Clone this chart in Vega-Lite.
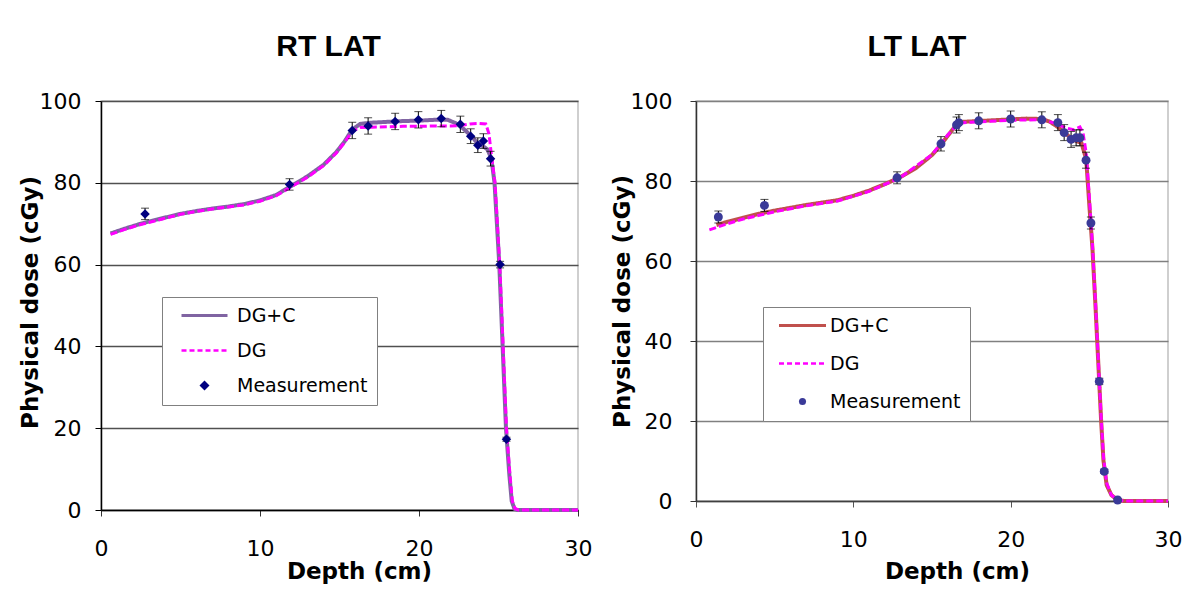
{
  "$schema": "https://vega.github.io/schema/vega-lite/v6.json",
  "background": "white",
  "padding": {"left": 18, "top": 31, "right": 5, "bottom": 5},
  "config": {
    "font": "DejaVu Sans",
    "view": {"stroke": "#c0c0c0", "strokeWidth": 1.5},
    "concat": {"spacing": 17},
    "axis": {"labelFlush": false, "labelOverlap": false, "labelColor": "black", "titleColor": "black"}
  },
  "resolve": {
    "scale": {"color": "independent", "strokeDash": "independent", "x": "independent", "y": "independent"},
    "legend": {"color": "independent"}
  },
  "datasets": {
    "rt_curves": [
      {"depth": 0.6, "dose": 67.6, "series": "DG+C"},
      {"depth": 1.5, "dose": 68.8, "series": "DG+C"},
      {"depth": 2.5, "dose": 70.0, "series": "DG+C"},
      {"depth": 3.5, "dose": 71.0, "series": "DG+C"},
      {"depth": 5, "dose": 72.4, "series": "DG+C"},
      {"depth": 6, "dose": 73.1, "series": "DG+C"},
      {"depth": 7, "dose": 73.7, "series": "DG+C"},
      {"depth": 8, "dose": 74.2, "series": "DG+C"},
      {"depth": 9, "dose": 74.8, "series": "DG+C"},
      {"depth": 10, "dose": 75.7, "series": "DG+C"},
      {"depth": 11, "dose": 77.0, "series": "DG+C"},
      {"depth": 12, "dose": 79.3, "series": "DG+C"},
      {"depth": 13, "dose": 81.6, "series": "DG+C"},
      {"depth": 14, "dose": 84.4, "series": "DG+C"},
      {"depth": 14.8, "dose": 87.5, "series": "DG+C"},
      {"depth": 15.3, "dose": 90.0, "series": "DG+C"},
      {"depth": 15.8, "dose": 93.0, "series": "DG+C"},
      {"depth": 16.3, "dose": 94.4, "series": "DG+C"},
      {"depth": 17, "dose": 94.7, "series": "DG+C"},
      {"depth": 18, "dose": 94.9, "series": "DG+C"},
      {"depth": 19, "dose": 95.1, "series": "DG+C"},
      {"depth": 20, "dose": 95.2, "series": "DG+C"},
      {"depth": 21, "dose": 95.4, "series": "DG+C"},
      {"depth": 21.8, "dose": 95.4, "series": "DG+C"},
      {"depth": 22.3, "dose": 94.6, "series": "DG+C"},
      {"depth": 22.8, "dose": 93.2, "series": "DG+C"},
      {"depth": 23.3, "dose": 91.4, "series": "DG+C"},
      {"depth": 23.7, "dose": 89.6, "series": "DG+C"},
      {"depth": 24.0, "dose": 89.0, "series": "DG+C"},
      {"depth": 24.3, "dose": 88.2, "series": "DG+C"},
      {"depth": 24.55, "dose": 86.0, "series": "DG+C"},
      {"depth": 24.75, "dose": 80.0, "series": "DG+C"},
      {"depth": 25.05, "dose": 60.0, "series": "DG+C"},
      {"depth": 25.26, "dose": 40.0, "series": "DG+C"},
      {"depth": 25.47, "dose": 20.0, "series": "DG+C"},
      {"depth": 25.68, "dose": 8.7, "series": "DG+C"},
      {"depth": 25.83, "dose": 2.2, "series": "DG+C"},
      {"depth": 26.0, "dose": 0.3, "series": "DG+C"},
      {"depth": 26.2, "dose": 0, "series": "DG+C"},
      {"depth": 30, "dose": 0, "series": "DG+C"},
      {"depth": 0.6, "dose": 67.4, "series": "DG"},
      {"depth": 1.5, "dose": 68.6, "series": "DG"},
      {"depth": 2.5, "dose": 69.8, "series": "DG"},
      {"depth": 3.5, "dose": 70.8, "series": "DG"},
      {"depth": 5, "dose": 72.3, "series": "DG"},
      {"depth": 6, "dose": 73.0, "series": "DG"},
      {"depth": 7, "dose": 73.6, "series": "DG"},
      {"depth": 8, "dose": 74.1, "series": "DG"},
      {"depth": 9, "dose": 74.6, "series": "DG"},
      {"depth": 10, "dose": 75.5, "series": "DG"},
      {"depth": 11, "dose": 76.8, "series": "DG"},
      {"depth": 12, "dose": 79.1, "series": "DG"},
      {"depth": 13, "dose": 81.4, "series": "DG"},
      {"depth": 14, "dose": 84.2, "series": "DG"},
      {"depth": 14.8, "dose": 87.3, "series": "DG"},
      {"depth": 15.3, "dose": 89.8, "series": "DG"},
      {"depth": 15.8, "dose": 92.6, "series": "DG"},
      {"depth": 16.3, "dose": 93.5, "series": "DG"},
      {"depth": 17, "dose": 93.6, "series": "DG"},
      {"depth": 18, "dose": 93.7, "series": "DG"},
      {"depth": 19, "dose": 93.8, "series": "DG"},
      {"depth": 20, "dose": 93.8, "series": "DG"},
      {"depth": 21, "dose": 93.9, "series": "DG"},
      {"depth": 22, "dose": 93.9, "series": "DG"},
      {"depth": 22.6, "dose": 94.0, "series": "DG"},
      {"depth": 23.2, "dose": 94.4, "series": "DG"},
      {"depth": 23.8, "dose": 94.5, "series": "DG"},
      {"depth": 24.2, "dose": 94.4, "series": "DG"},
      {"depth": 24.4, "dose": 92.0, "series": "DG"},
      {"depth": 24.55, "dose": 87.0, "series": "DG"},
      {"depth": 24.78, "dose": 80.0, "series": "DG"},
      {"depth": 25.08, "dose": 60.0, "series": "DG"},
      {"depth": 25.29, "dose": 40.0, "series": "DG"},
      {"depth": 25.5, "dose": 20.0, "series": "DG"},
      {"depth": 25.72, "dose": 8.7, "series": "DG"},
      {"depth": 25.87, "dose": 2.2, "series": "DG"},
      {"depth": 26.05, "dose": 0.3, "series": "DG"},
      {"depth": 26.25, "dose": 0, "series": "DG"},
      {"depth": 30, "dose": 0, "series": "DG"}
    ],
    "rt_meas": [
      {"depth": 2.77, "dose": 72.4, "err": 1.4, "series": "Measurement"},
      {"depth": 11.86, "dose": 79.6, "err": 1.4, "series": "Measurement"},
      {"depth": 15.8, "dose": 92.8, "err": 2.0, "series": "Measurement"},
      {"depth": 16.8, "dose": 93.9, "err": 2.0, "series": "Measurement"},
      {"depth": 18.5, "dose": 95.0, "err": 2.0, "series": "Measurement"},
      {"depth": 19.96, "dose": 95.4, "err": 2.0, "series": "Measurement"},
      {"depth": 21.4, "dose": 95.7, "err": 2.0, "series": "Measurement"},
      {"depth": 22.6, "dose": 94.3, "err": 2.0, "series": "Measurement"},
      {"depth": 23.25, "dose": 91.4, "err": 1.8, "series": "Measurement"},
      {"depth": 23.7, "dose": 89.2, "err": 1.8, "series": "Measurement"},
      {"depth": 24.05, "dose": 90.2, "err": 1.8, "series": "Measurement"},
      {"depth": 24.5, "dose": 85.9, "err": 1.8, "series": "Measurement"},
      {"depth": 25.1, "dose": 60.0, "err": 0.8, "series": "Measurement"},
      {"depth": 25.5, "dose": 17.3, "err": 0.5, "series": "Measurement"}
    ],
    "lt_curves": [
      {"depth": 1.3, "dose": 69.0, "series": "DG+C"},
      {"depth": 2, "dose": 69.8, "series": "DG+C"},
      {"depth": 3, "dose": 70.8, "series": "DG+C"},
      {"depth": 4, "dose": 71.8, "series": "DG+C"},
      {"depth": 5, "dose": 72.6, "series": "DG+C"},
      {"depth": 6, "dose": 73.3, "series": "DG+C"},
      {"depth": 7, "dose": 74.0, "series": "DG+C"},
      {"depth": 8, "dose": 74.6, "series": "DG+C"},
      {"depth": 9, "dose": 75.2, "series": "DG+C"},
      {"depth": 10, "dose": 76.3, "series": "DG+C"},
      {"depth": 11, "dose": 77.6, "series": "DG+C"},
      {"depth": 12, "dose": 79.2, "series": "DG+C"},
      {"depth": 13, "dose": 81.0, "series": "DG+C"},
      {"depth": 14, "dose": 83.3, "series": "DG+C"},
      {"depth": 15, "dose": 86.5, "series": "DG+C"},
      {"depth": 15.5, "dose": 88.7, "series": "DG+C"},
      {"depth": 16, "dose": 91.3, "series": "DG+C"},
      {"depth": 16.5, "dose": 93.8, "series": "DG+C"},
      {"depth": 17, "dose": 94.8, "series": "DG+C"},
      {"depth": 18, "dose": 95.0, "series": "DG+C"},
      {"depth": 19, "dose": 95.2, "series": "DG+C"},
      {"depth": 20, "dose": 95.4, "series": "DG+C"},
      {"depth": 21, "dose": 95.6, "series": "DG+C"},
      {"depth": 22, "dose": 95.5, "series": "DG+C"},
      {"depth": 22.5, "dose": 94.8, "series": "DG+C"},
      {"depth": 23, "dose": 93.5, "series": "DG+C"},
      {"depth": 23.5, "dose": 91.8, "series": "DG+C"},
      {"depth": 24, "dose": 90.3, "series": "DG+C"},
      {"depth": 24.5, "dose": 89.5, "series": "DG+C"},
      {"depth": 24.8, "dose": 85.5, "series": "DG+C"},
      {"depth": 25.0, "dose": 74.0, "series": "DG+C"},
      {"depth": 25.2, "dose": 63.0, "series": "DG+C"},
      {"depth": 25.4, "dose": 48.0, "series": "DG+C"},
      {"depth": 25.6, "dose": 32.0, "series": "DG+C"},
      {"depth": 25.75, "dose": 20.0, "series": "DG+C"},
      {"depth": 25.9, "dose": 10.0, "series": "DG+C"},
      {"depth": 26.1, "dose": 4.0, "series": "DG+C"},
      {"depth": 26.4, "dose": 1.5, "series": "DG+C"},
      {"depth": 26.8, "dose": 0.2, "series": "DG+C"},
      {"depth": 27.2, "dose": 0, "series": "DG+C"},
      {"depth": 30, "dose": 0, "series": "DG+C"},
      {"depth": 0.85, "dose": 67.8, "series": "DG"},
      {"depth": 2, "dose": 69.3, "series": "DG"},
      {"depth": 3, "dose": 70.5, "series": "DG"},
      {"depth": 5, "dose": 72.3, "series": "DG"},
      {"depth": 7, "dose": 73.8, "series": "DG"},
      {"depth": 9, "dose": 75.0, "series": "DG"},
      {"depth": 11, "dose": 77.4, "series": "DG"},
      {"depth": 13, "dose": 80.9, "series": "DG"},
      {"depth": 15, "dose": 86.6, "series": "DG"},
      {"depth": 16, "dose": 91.5, "series": "DG"},
      {"depth": 16.7, "dose": 94.5, "series": "DG"},
      {"depth": 18, "dose": 94.8, "series": "DG"},
      {"depth": 20, "dose": 95.2, "series": "DG"},
      {"depth": 22, "dose": 95.3, "series": "DG"},
      {"depth": 22.8, "dose": 94.5, "series": "DG"},
      {"depth": 23.5, "dose": 93.3, "series": "DG"},
      {"depth": 24, "dose": 92.8, "series": "DG"},
      {"depth": 24.4, "dose": 93.5, "series": "DG"},
      {"depth": 24.6, "dose": 92.0, "series": "DG"},
      {"depth": 24.8, "dose": 87.0, "series": "DG"},
      {"depth": 25.0, "dose": 76.0, "series": "DG"},
      {"depth": 25.2, "dose": 64.0, "series": "DG"},
      {"depth": 25.4, "dose": 49.0, "series": "DG"},
      {"depth": 25.6, "dose": 33.0, "series": "DG"},
      {"depth": 25.75, "dose": 21.0, "series": "DG"},
      {"depth": 25.9, "dose": 11.0, "series": "DG"},
      {"depth": 26.1, "dose": 4.5, "series": "DG"},
      {"depth": 26.4, "dose": 1.5, "series": "DG"},
      {"depth": 26.8, "dose": 0.3, "series": "DG"},
      {"depth": 27.2, "dose": 0, "series": "DG"},
      {"depth": 30, "dose": 0, "series": "DG"}
    ],
    "lt_meas": [
      {"depth": 1.42, "dose": 71.0, "err": 1.5, "series": "Measurement"},
      {"depth": 4.35, "dose": 73.9, "err": 1.5, "series": "Measurement"},
      {"depth": 12.78, "dose": 80.8, "err": 1.5, "series": "Measurement"},
      {"depth": 15.57, "dose": 89.3, "err": 1.8, "series": "Measurement"},
      {"depth": 16.56, "dose": 94.0, "err": 2.0, "series": "Measurement"},
      {"depth": 16.71, "dose": 94.6, "err": 2.0, "series": "Measurement"},
      {"depth": 17.97, "dose": 95.05, "err": 2.0, "series": "Measurement"},
      {"depth": 20.0, "dose": 95.5, "err": 2.0, "series": "Measurement"},
      {"depth": 21.98, "dose": 95.3, "err": 2.0, "series": "Measurement"},
      {"depth": 23.0, "dose": 94.6, "err": 2.0, "series": "Measurement"},
      {"depth": 23.4, "dose": 92.1, "err": 2.0, "series": "Measurement"},
      {"depth": 23.84, "dose": 90.4, "err": 2.0, "series": "Measurement"},
      {"depth": 24.16, "dose": 90.8, "err": 2.0, "series": "Measurement"},
      {"depth": 24.4, "dose": 90.8, "err": 2.0, "series": "Measurement"},
      {"depth": 24.79, "dose": 85.2, "err": 2.0, "series": "Measurement"},
      {"depth": 25.1, "dose": 69.5, "err": 1.5, "series": "Measurement"},
      {"depth": 25.63, "dose": 29.9, "err": 0.8, "series": "Measurement"},
      {"depth": 25.95, "dose": 7.4, "err": 0.5, "series": "Measurement"},
      {"depth": 26.8, "dose": 0.25, "err": 0.3, "series": "Measurement"}
    ]
  },
  "hconcat": [
    {
      "width": 477,
      "height": 409,
      "title": {"text": "RT LAT", "font": "Liberation Sans", "fontSize": 30, "fontWeight": "bold", "color": "black", "anchor": "middle", "frame": "group", "baseline": "alphabetic", "offset": 4, "dx": -11},
      "layer": [
        {
          "data": {"name": "rt_curves"},
          "transform": [{"filter": "datum.series === 'DG+C'"}],
          "mark": {"type": "line", "strokeWidth": 4},
          "encoding": {
            "x": {"field": "depth", "type": "quantitative", "title": "Depth (cm)", "scale": {"domain": [0, 30], "nice": false},
              "axis": {"values": [0, 10, 20, 30], "titleFontSize": 23, "titleFontWeight": "bold", "titleX": 258, "titleY": 61, "titleBaseline": "middle", "labelFontSize": 22, "labelPadding": 22, "tickSize": 6, "tickColor": "#333333", "domainColor": "black", "domainWidth": 1.5, "grid": false}},
            "y": {"field": "dose", "type": "quantitative", "title": "Physical dose (cGy)", "scale": {"domain": [0, 100], "nice": false},
              "axis": {"values": [0, 20, 40, 60, 80, 100], "titleFontSize": 23, "titleFontWeight": "bold", "titleX": -71, "titleY": 201, "titleBaseline": "middle", "labelFontSize": 22, "labelPadding": 14, "tickSize": 6, "tickColor": "black", "domainColor": "black", "domainWidth": 1.5, "grid": true, "gridColor": "#505050", "gridWidth": 1.5}},
            "color": {"field": "series", "type": "nominal",
              "scale": {"domain": ["DG+C", "DG", "Measurement"], "range": ["#8064A2", "#FF00FF", "#000080"]},
              "legend": {"orient": "none", "legendX": 61, "legendY": 196, "title": null, "strokeColor": "#808080", "fillColor": "white", "padding": 9, "rowPadding": 15, "symbolSize": 400, "symbolOffset": 24, "labelOffset": 23, "labelFont": "DejaVu Sans", "labelFontSize": 19, "labelColor": "black",
                "encode": {"symbols": {"update": {
                  "shape": {"signal": "datum.value === 'Measurement' ? 'diamond' : 'M-2.3,0H2.3'"},
                  "size": {"signal": "datum.value === 'Measurement' ? 100 : 400"},
                  "strokeDash": {"signal": "datum.value === 'DG' ? [5, 3] : [1, 0]"},
                  "strokeWidth": {"signal": "datum.value === 'Measurement' ? 0 : (datum.value === 'DG' ? 2.5 : 3)"},
                  "fill": {"signal": "datum.value === 'Measurement' ? '#000080' : 'transparent'"},
                  "stroke": {"signal": "datum.value === 'DG+C' ? '#8064A2' : (datum.value === 'DG' ? '#FF00FF' : '#000080')"},
                  "opacity": {"value": 1}
                }}}}},
            "strokeDash": {"field": "series", "type": "nominal", "scale": {"domain": ["DG+C", "DG"], "range": [[1, 0], [7, 3]]}, "legend": null}
          }
        },
        {
          "data": {"name": "rt_curves"},
          "transform": [{"filter": "datum.series === 'DG'"}],
          "mark": {"type": "line", "strokeWidth": 3},
          "encoding": {
            "x": {"field": "depth", "type": "quantitative", "title": "Depth (cm)"},
            "y": {"field": "dose", "type": "quantitative", "title": "Physical dose (cGy)"},
            "color": {"field": "series", "type": "nominal"},
            "strokeDash": {"field": "series", "type": "nominal", "legend": null}
          }
        },
        {
          "data": {"name": "rt_meas"},
          "mark": {"type": "errorbar", "ticks": {"size": 8, "color": "black"}, "color": "black", "thickness": 1},
          "encoding": {
            "x": {"field": "depth", "type": "quantitative", "title": "Depth (cm)"},
            "y": {"field": "dose", "type": "quantitative", "title": "Physical dose (cGy)"},
            "yError": {"field": "err"}
          }
        },
        {
          "data": {"name": "rt_meas"},
          "mark": {"type": "point", "shape": "diamond", "filled": true, "size": 90, "opacity": 1},
          "encoding": {
            "x": {"field": "depth", "type": "quantitative", "title": "Depth (cm)"},
            "y": {"field": "dose", "type": "quantitative", "title": "Physical dose (cGy)"},
            "color": {"field": "series", "type": "nominal"}
          }
        }
      ]
    },
    {
      "width": 472,
      "height": 400,
      "title": {"text": "LT LAT", "font": "Liberation Sans", "fontSize": 30, "fontWeight": "bold", "color": "black", "anchor": "middle", "frame": "group", "baseline": "alphabetic", "offset": 4, "dx": -15},
      "layer": [
        {
          "data": {"name": "lt_curves"},
          "transform": [{"filter": "datum.series === 'DG+C'"}],
          "mark": {"type": "line", "strokeWidth": 4},
          "encoding": {
            "x": {"field": "depth", "type": "quantitative", "title": "Depth (cm)", "scale": {"domain": [0, 30], "nice": false},
              "axis": {"values": [0, 10, 20, 30], "titleFontSize": 23, "titleFontWeight": "bold", "titleX": 261, "titleY": 70, "titleBaseline": "middle", "labelFontSize": 22, "labelPadding": 22, "tickSize": 6, "tickColor": "#555555", "domainColor": "#404040", "domainWidth": 1.5, "grid": false}},
            "y": {"field": "dose", "type": "quantitative", "title": "Physical dose (cGy)", "scale": {"domain": [0, 100], "nice": false},
              "axis": {"values": [0, 20, 40, 60, 80, 100], "titleFontSize": 23, "titleFontWeight": "bold", "titleX": -74, "titleY": 200, "titleBaseline": "middle", "labelFontSize": 22, "labelPadding": 18, "tickSize": 6, "tickColor": "#333333", "domainColor": "#333333", "domainWidth": 1.5, "grid": true, "gridColor": "#808080", "gridWidth": 1.5}},
            "color": {"field": "series", "type": "nominal",
              "scale": {"domain": ["DG+C", "DG", "Measurement"], "range": ["#C0504D", "#FF00FF", "#3A3A98"]},
              "legend": {"orient": "none", "legendX": 67, "legendY": 206, "title": null, "strokeColor": "#808080", "fillColor": "white", "padding": 9, "rowPadding": 18, "symbolSize": 400, "symbolOffset": 21, "labelOffset": 18, "labelFont": "DejaVu Sans", "labelFontSize": 19, "labelColor": "black",
                "encode": {"symbols": {"update": {
                  "shape": {"signal": "datum.value === 'Measurement' ? 'circle' : 'M-2.35,0H2.35'"},
                  "size": {"signal": "datum.value === 'Measurement' ? 50 : 400"},
                  "strokeDash": {"signal": "datum.value === 'DG' ? [5, 3] : [1, 0]"},
                  "strokeWidth": {"signal": "datum.value === 'Measurement' ? 0 : (datum.value === 'DG' ? 2.5 : 3)"},
                  "fill": {"signal": "datum.value === 'Measurement' ? '#3A3A98' : 'transparent'"},
                  "stroke": {"signal": "datum.value === 'DG+C' ? '#C0504D' : (datum.value === 'DG' ? '#FF00FF' : '#3A3A98')"},
                  "opacity": {"value": 1}
                }}}}},
            "strokeDash": {"field": "series", "type": "nominal", "scale": {"domain": ["DG+C", "DG"], "range": [[1, 0], [7, 3]]}, "legend": null}
          }
        },
        {
          "data": {"name": "lt_curves"},
          "transform": [{"filter": "datum.series === 'DG'"}],
          "mark": {"type": "line", "strokeWidth": 3},
          "encoding": {
            "x": {"field": "depth", "type": "quantitative", "title": "Depth (cm)"},
            "y": {"field": "dose", "type": "quantitative", "title": "Physical dose (cGy)"},
            "color": {"field": "series", "type": "nominal"},
            "strokeDash": {"field": "series", "type": "nominal", "legend": null}
          }
        },
        {
          "data": {"name": "lt_meas"},
          "mark": {"type": "errorbar", "ticks": {"size": 8, "color": "black"}, "color": "black", "thickness": 1},
          "encoding": {
            "x": {"field": "depth", "type": "quantitative", "title": "Depth (cm)"},
            "y": {"field": "dose", "type": "quantitative", "title": "Physical dose (cGy)"},
            "yError": {"field": "err"}
          }
        },
        {
          "data": {"name": "lt_meas"},
          "mark": {"type": "point", "shape": "circle", "filled": true, "size": 80, "opacity": 1},
          "encoding": {
            "x": {"field": "depth", "type": "quantitative", "title": "Depth (cm)"},
            "y": {"field": "dose", "type": "quantitative", "title": "Physical dose (cGy)"},
            "color": {"field": "series", "type": "nominal"}
          }
        }
      ]
    }
  ]
}
